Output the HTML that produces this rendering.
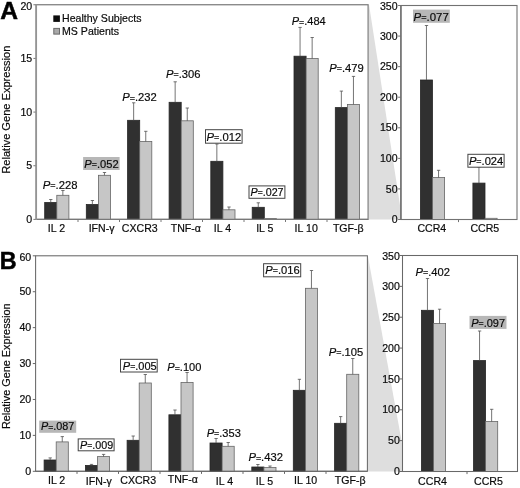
<!DOCTYPE html>
<html><head><meta charset="utf-8"><title>Figure</title><style>html,body{margin:0;padding:0;background:#fff}svg{display:block;will-change:transform;-webkit-font-smoothing:antialiased}text{stroke:#0a0a0a;stroke-width:0.18px}text.big{stroke:#000;stroke-width:0.5px}</style></head><body>
<svg width="520" height="488" viewBox="0 0 520 488" font-family="Liberation Sans, sans-serif" fill="#0a0a0a">
<rect width="520" height="488" fill="#fff"/>
<polygon points="369,4.5 369,219.5 400.5,219.5 400.5,208.5" fill="#dedede"/>
<polygon points="367.8,255.5 367.8,471.5 402.5,471.5 402.5,446" fill="#dedede"/>
<rect x="36.2" y="4.75" width="331.90" height="214.65" fill="#fff" stroke="#787878" stroke-width="1.2"/>
<path d="M33.400000000000006 219.40H36.2" stroke="#787878" stroke-width="1"/>
<text transform="translate(32.20,223.00) scale(1.06,1)" font-size="10" text-anchor="end" >0</text>
<path d="M33.400000000000006 165.74H36.2" stroke="#787878" stroke-width="1"/>
<text transform="translate(32.20,169.34) scale(1.06,1)" font-size="10" text-anchor="end" >5</text>
<path d="M33.400000000000006 112.08H36.2" stroke="#787878" stroke-width="1"/>
<text transform="translate(32.20,115.67) scale(1.06,1)" font-size="10" text-anchor="end" >10</text>
<path d="M33.400000000000006 58.41H36.2" stroke="#787878" stroke-width="1"/>
<text transform="translate(32.20,62.01) scale(1.06,1)" font-size="10" text-anchor="end" >15</text>
<path d="M33.400000000000006 4.75H36.2" stroke="#787878" stroke-width="1"/>
<text transform="translate(32.20,9.85) scale(1.06,1)" font-size="10" text-anchor="end" >20</text>
<rect x="44.70" y="202.50" width="12.10" height="16.90" fill="#303030" stroke="#262626" stroke-width="0.8"/>
<rect x="56.80" y="195.30" width="12.10" height="24.10" fill="#c6c6c6" stroke="#666" stroke-width="0.8"/>
<path d="M50.75 202.50V199.50M49.15 199.50H52.45" stroke="#505050" stroke-width="0.8" fill="none"/>
<path d="M62.85 195.30V190.50M61.25 190.50H64.55" stroke="#505050" stroke-width="0.8" fill="none"/>
<text transform="translate(56.50,232.30) scale(1.06,1)" font-size="10" text-anchor="middle" >IL 2</text>
<rect x="86.30" y="204.50" width="12.10" height="14.90" fill="#303030" stroke="#262626" stroke-width="0.8"/>
<rect x="98.40" y="175.30" width="12.10" height="44.10" fill="#c6c6c6" stroke="#666" stroke-width="0.8"/>
<path d="M92.35 204.50V200.50M90.75 200.50H94.05" stroke="#505050" stroke-width="0.8" fill="none"/>
<path d="M104.45 175.30V172.50M102.85 172.50H106.15" stroke="#505050" stroke-width="0.8" fill="none"/>
<text transform="translate(101.60,232.30) scale(1.06,1)" font-size="10" text-anchor="middle" >IFN-γ</text>
<rect x="127.60" y="120.30" width="12.10" height="99.10" fill="#303030" stroke="#262626" stroke-width="0.8"/>
<rect x="139.70" y="141.50" width="12.10" height="77.90" fill="#c6c6c6" stroke="#666" stroke-width="0.8"/>
<path d="M133.65 120.30V102.80M132.05 102.80H135.35" stroke="#505050" stroke-width="0.8" fill="none"/>
<path d="M145.75 141.50V131.30M144.15 131.30H147.45" stroke="#505050" stroke-width="0.8" fill="none"/>
<text transform="translate(139.80,232.30) scale(1.06,1)" font-size="10" text-anchor="middle" >CXCR3</text>
<rect x="169.10" y="102.30" width="12.10" height="117.10" fill="#303030" stroke="#262626" stroke-width="0.8"/>
<rect x="181.20" y="120.80" width="12.10" height="98.60" fill="#c6c6c6" stroke="#666" stroke-width="0.8"/>
<path d="M175.15 102.30V81.80M173.55 81.80H176.85" stroke="#505050" stroke-width="0.8" fill="none"/>
<path d="M187.25 120.80V108.00M185.65 108.00H188.95" stroke="#505050" stroke-width="0.8" fill="none"/>
<text transform="translate(185.80,232.30) scale(1.06,1)" font-size="10" text-anchor="middle" >TNF-α</text>
<rect x="210.80" y="161.30" width="12.10" height="58.10" fill="#303030" stroke="#262626" stroke-width="0.8"/>
<rect x="222.90" y="209.80" width="12.10" height="9.60" fill="#c6c6c6" stroke="#666" stroke-width="0.8"/>
<path d="M216.85 161.30V144.00M215.25 144.00H218.55" stroke="#505050" stroke-width="0.8" fill="none"/>
<path d="M228.95 209.80V207.00M227.35 207.00H230.65" stroke="#505050" stroke-width="0.8" fill="none"/>
<text transform="translate(222.50,232.30) scale(1.06,1)" font-size="10" text-anchor="middle" >IL 4</text>
<rect x="252.20" y="207.30" width="12.10" height="12.10" fill="#303030" stroke="#262626" stroke-width="0.8"/>
<rect x="264.30" y="218.60" width="12.10" height="0.80" fill="#c6c6c6" stroke="#666" stroke-width="0.8"/>
<path d="M258.25 207.30V202.80M256.65 202.80H259.95" stroke="#505050" stroke-width="0.8" fill="none"/>
<text transform="translate(264.80,232.30) scale(1.06,1)" font-size="10" text-anchor="middle" >IL 5</text>
<rect x="294.00" y="56.20" width="12.10" height="163.20" fill="#303030" stroke="#262626" stroke-width="0.8"/>
<rect x="306.10" y="58.50" width="12.10" height="160.90" fill="#c6c6c6" stroke="#666" stroke-width="0.8"/>
<path d="M300.05 56.20V27.40M298.45 27.40H301.75" stroke="#505050" stroke-width="0.8" fill="none"/>
<path d="M312.15 58.50V37.50M310.55 37.50H313.85" stroke="#505050" stroke-width="0.8" fill="none"/>
<text transform="translate(306.20,232.30) scale(1.06,1)" font-size="10" text-anchor="middle" >IL 10</text>
<rect x="335.30" y="107.60" width="12.10" height="111.80" fill="#303030" stroke="#262626" stroke-width="0.8"/>
<rect x="347.40" y="104.40" width="12.10" height="115.00" fill="#c6c6c6" stroke="#666" stroke-width="0.8"/>
<path d="M341.35 107.60V91.10M339.75 91.10H343.05" stroke="#505050" stroke-width="0.8" fill="none"/>
<path d="M353.45 104.40V76.40M351.85 76.40H355.15" stroke="#505050" stroke-width="0.8" fill="none"/>
<text transform="translate(348.30,232.30) scale(1.06,1)" font-size="10" text-anchor="middle" >TGF-β</text>
<path d="M78.00 219.4V222.0" stroke="#787878" stroke-width="1"/>
<path d="M119.50 219.4V222.0" stroke="#787878" stroke-width="1"/>
<path d="M161.00 219.4V222.0" stroke="#787878" stroke-width="1"/>
<path d="M202.50 219.4V222.0" stroke="#787878" stroke-width="1"/>
<path d="M244.00 219.4V222.0" stroke="#787878" stroke-width="1"/>
<path d="M285.50 219.4V222.0" stroke="#787878" stroke-width="1"/>
<path d="M327.00 219.4V222.0" stroke="#787878" stroke-width="1"/>
<path d="M36.2 219.4H368.1" stroke="#787878" stroke-width="1.2"/>
<path d="M36.2 4.15V220.0" stroke="#949494" stroke-width="1.7"/>
<rect x="400.9" y="5.5" width="116.10" height="214.00" fill="#fff" stroke="#727272" stroke-width="1.1"/>
<path d="M398.09999999999997 219.50H400.9" stroke="#727272" stroke-width="1"/>
<text transform="translate(397.60,223.10) scale(1.06,1)" font-size="10" text-anchor="end" >0</text>
<path d="M398.09999999999997 188.93H400.9" stroke="#727272" stroke-width="1"/>
<text transform="translate(397.60,192.53) scale(1.06,1)" font-size="10" text-anchor="end" >50</text>
<path d="M398.09999999999997 158.36H400.9" stroke="#727272" stroke-width="1"/>
<text transform="translate(397.60,161.96) scale(1.06,1)" font-size="10" text-anchor="end" >100</text>
<path d="M398.09999999999997 127.79H400.9" stroke="#727272" stroke-width="1"/>
<text transform="translate(397.60,131.39) scale(1.06,1)" font-size="10" text-anchor="end" >150</text>
<path d="M398.09999999999997 97.21H400.9" stroke="#727272" stroke-width="1"/>
<text transform="translate(397.60,100.81) scale(1.06,1)" font-size="10" text-anchor="end" >200</text>
<path d="M398.09999999999997 66.64H400.9" stroke="#727272" stroke-width="1"/>
<text transform="translate(397.60,70.24) scale(1.06,1)" font-size="10" text-anchor="end" >250</text>
<path d="M398.09999999999997 36.07H400.9" stroke="#727272" stroke-width="1"/>
<text transform="translate(397.60,39.67) scale(1.06,1)" font-size="10" text-anchor="end" >300</text>
<path d="M398.09999999999997 5.50H400.9" stroke="#727272" stroke-width="1"/>
<text transform="translate(397.60,9.85) scale(1.06,1)" font-size="10" text-anchor="end" >350</text>
<rect x="420.40" y="80.00" width="12.10" height="139.50" fill="#303030" stroke="#262626" stroke-width="0.8"/>
<rect x="432.50" y="177.50" width="12.10" height="42.00" fill="#c6c6c6" stroke="#666" stroke-width="0.8"/>
<path d="M426.45 80.00V25.50M424.85 25.50H428.15" stroke="#505050" stroke-width="0.8" fill="none"/>
<path d="M438.55 177.50V170.30M436.95 170.30H440.25" stroke="#505050" stroke-width="0.8" fill="none"/>
<text transform="translate(431.80,232.30) scale(1.06,1)" font-size="10" text-anchor="middle" >CCR4</text>
<rect x="472.90" y="183.10" width="12.10" height="36.40" fill="#303030" stroke="#262626" stroke-width="0.8"/>
<rect x="485.00" y="218.30" width="12.10" height="1.20" fill="#c6c6c6" stroke="#666" stroke-width="0.8"/>
<path d="M478.95 183.10V167.00M477.35 167.00H480.65" stroke="#505050" stroke-width="0.8" fill="none"/>
<text transform="translate(484.80,232.30) scale(1.06,1)" font-size="10" text-anchor="middle" >CCR5</text>
<path d="M458.50 219.5V222.1" stroke="#727272" stroke-width="1"/>
<path d="M400.9 219.5H517" stroke="#727272" stroke-width="1.1"/>
<path d="M400.9 4.95V220.05" stroke="#707070" stroke-width="1.4"/>
<rect x="35.6" y="255.8" width="331.80" height="215.50" fill="#fff" stroke="#686868" stroke-width="1.05"/>
<path d="M32.800000000000004 471.30H35.6" stroke="#686868" stroke-width="1"/>
<text transform="translate(31.20,474.90) scale(1.06,1)" font-size="10" text-anchor="end" >0</text>
<path d="M32.800000000000004 435.38H35.6" stroke="#686868" stroke-width="1"/>
<text transform="translate(31.20,438.98) scale(1.06,1)" font-size="10" text-anchor="end" >10</text>
<path d="M32.800000000000004 399.47H35.6" stroke="#686868" stroke-width="1"/>
<text transform="translate(31.20,403.07) scale(1.06,1)" font-size="10" text-anchor="end" >20</text>
<path d="M32.800000000000004 363.55H35.6" stroke="#686868" stroke-width="1"/>
<text transform="translate(31.20,367.15) scale(1.06,1)" font-size="10" text-anchor="end" >30</text>
<path d="M32.800000000000004 327.63H35.6" stroke="#686868" stroke-width="1"/>
<text transform="translate(31.20,331.23) scale(1.06,1)" font-size="10" text-anchor="end" >40</text>
<path d="M32.800000000000004 291.72H35.6" stroke="#686868" stroke-width="1"/>
<text transform="translate(31.20,295.32) scale(1.06,1)" font-size="10" text-anchor="end" >50</text>
<path d="M32.800000000000004 255.80H35.6" stroke="#686868" stroke-width="1"/>
<text transform="translate(31.20,260.70) scale(1.06,1)" font-size="10" text-anchor="end" >60</text>
<rect x="44.10" y="460.00" width="12.10" height="11.30" fill="#303030" stroke="#262626" stroke-width="0.8"/>
<rect x="56.20" y="441.90" width="12.10" height="29.40" fill="#c6c6c6" stroke="#666" stroke-width="0.8"/>
<path d="M50.15 460.00V457.90M48.55 457.90H51.85" stroke="#505050" stroke-width="0.8" fill="none"/>
<path d="M62.25 441.90V436.60M60.65 436.60H63.95" stroke="#505050" stroke-width="0.8" fill="none"/>
<text transform="translate(56.60,483.80) scale(1.06,1)" font-size="10" text-anchor="middle" >IL 2</text>
<rect x="85.40" y="465.40" width="12.10" height="5.90" fill="#303030" stroke="#262626" stroke-width="0.8"/>
<rect x="97.50" y="456.60" width="12.10" height="14.70" fill="#c6c6c6" stroke="#666" stroke-width="0.8"/>
<path d="M91.45 465.40V464.40M89.85 464.40H93.15" stroke="#505050" stroke-width="0.8" fill="none"/>
<path d="M103.55 456.60V454.40M101.95 454.40H105.25" stroke="#505050" stroke-width="0.8" fill="none"/>
<text transform="translate(98.80,484.80) scale(1.06,1)" font-size="10" text-anchor="middle" >IFN-γ</text>
<rect x="127.10" y="440.30" width="12.10" height="31.00" fill="#303030" stroke="#262626" stroke-width="0.8"/>
<rect x="139.20" y="383.00" width="12.10" height="88.30" fill="#c6c6c6" stroke="#666" stroke-width="0.8"/>
<path d="M133.15 440.30V436.00M131.55 436.00H134.85" stroke="#505050" stroke-width="0.8" fill="none"/>
<path d="M145.25 383.00V374.50M143.65 374.50H146.95" stroke="#505050" stroke-width="0.8" fill="none"/>
<text transform="translate(138.20,483.80) scale(1.06,1)" font-size="10" text-anchor="middle" >CXCR3</text>
<rect x="168.90" y="414.80" width="12.10" height="56.50" fill="#303030" stroke="#262626" stroke-width="0.8"/>
<rect x="181.00" y="382.50" width="12.10" height="88.80" fill="#c6c6c6" stroke="#666" stroke-width="0.8"/>
<path d="M174.95 414.80V410.00M173.35 410.00H176.65" stroke="#505050" stroke-width="0.8" fill="none"/>
<path d="M187.05 382.50V372.50M185.45 372.50H188.75" stroke="#505050" stroke-width="0.8" fill="none"/>
<text transform="translate(182.80,482.80) scale(1.06,1)" font-size="10" text-anchor="middle" >TNF-α</text>
<rect x="210.00" y="443.00" width="12.10" height="28.30" fill="#303030" stroke="#262626" stroke-width="0.8"/>
<rect x="222.10" y="446.30" width="12.10" height="25.00" fill="#c6c6c6" stroke="#666" stroke-width="0.8"/>
<path d="M216.05 443.00V438.50M214.45 438.50H217.75" stroke="#505050" stroke-width="0.8" fill="none"/>
<path d="M228.15 446.30V442.50M226.55 442.50H229.85" stroke="#505050" stroke-width="0.8" fill="none"/>
<text transform="translate(224.40,484.80) scale(1.06,1)" font-size="10" text-anchor="middle" >IL 4</text>
<rect x="251.80" y="467.00" width="12.10" height="4.30" fill="#303030" stroke="#262626" stroke-width="0.8"/>
<rect x="263.90" y="467.50" width="12.10" height="3.80" fill="#c6c6c6" stroke="#666" stroke-width="0.8"/>
<path d="M257.85 467.00V464.50M256.25 464.50H259.55" stroke="#505050" stroke-width="0.8" fill="none"/>
<path d="M269.95 467.50V466.00M268.35 466.00H271.65" stroke="#505050" stroke-width="0.8" fill="none"/>
<text transform="translate(264.40,484.80) scale(1.06,1)" font-size="10" text-anchor="middle" >IL 5</text>
<rect x="293.30" y="390.30" width="12.10" height="81.00" fill="#303030" stroke="#262626" stroke-width="0.8"/>
<rect x="305.40" y="288.30" width="12.10" height="183.00" fill="#c6c6c6" stroke="#666" stroke-width="0.8"/>
<path d="M299.35 390.30V379.30M297.75 379.30H301.05" stroke="#505050" stroke-width="0.8" fill="none"/>
<path d="M311.45 288.30V270.50M309.85 270.50H313.15" stroke="#505050" stroke-width="0.8" fill="none"/>
<text transform="translate(305.60,484.00) scale(1.06,1)" font-size="10" text-anchor="middle" >IL 10</text>
<rect x="334.60" y="423.30" width="12.10" height="48.00" fill="#303030" stroke="#262626" stroke-width="0.8"/>
<rect x="346.70" y="374.30" width="12.10" height="97.00" fill="#c6c6c6" stroke="#666" stroke-width="0.8"/>
<path d="M340.65 423.30V416.60M339.05 416.60H342.35" stroke="#505050" stroke-width="0.8" fill="none"/>
<path d="M352.75 374.30V358.50M351.15 358.50H354.45" stroke="#505050" stroke-width="0.8" fill="none"/>
<text transform="translate(350.20,484.00) scale(1.06,1)" font-size="10" text-anchor="middle" >TGF-β</text>
<path d="M77.00 471.3V473.90000000000003" stroke="#686868" stroke-width="1"/>
<path d="M118.50 471.3V473.90000000000003" stroke="#686868" stroke-width="1"/>
<path d="M160.00 471.3V473.90000000000003" stroke="#686868" stroke-width="1"/>
<path d="M201.50 471.3V473.90000000000003" stroke="#686868" stroke-width="1"/>
<path d="M243.00 471.3V473.90000000000003" stroke="#686868" stroke-width="1"/>
<path d="M284.50 471.3V473.90000000000003" stroke="#686868" stroke-width="1"/>
<path d="M326.00 471.3V473.90000000000003" stroke="#686868" stroke-width="1"/>
<path d="M35.6 471.3H367.4" stroke="#686868" stroke-width="1.05"/>
<rect x="402.5" y="255.5" width="115.00" height="216.00" fill="#fff" stroke="#686868" stroke-width="1.05"/>
<path d="M399.7 471.50H402.5" stroke="#686868" stroke-width="1"/>
<text transform="translate(399.90,475.10) scale(1.06,1)" font-size="10" text-anchor="end" >0</text>
<path d="M399.7 440.64H402.5" stroke="#686868" stroke-width="1"/>
<text transform="translate(399.90,444.24) scale(1.06,1)" font-size="10" text-anchor="end" >50</text>
<path d="M399.7 409.79H402.5" stroke="#686868" stroke-width="1"/>
<text transform="translate(399.90,413.39) scale(1.06,1)" font-size="10" text-anchor="end" >100</text>
<path d="M399.7 378.93H402.5" stroke="#686868" stroke-width="1"/>
<text transform="translate(399.90,382.53) scale(1.06,1)" font-size="10" text-anchor="end" >150</text>
<path d="M399.7 348.07H402.5" stroke="#686868" stroke-width="1"/>
<text transform="translate(399.90,351.67) scale(1.06,1)" font-size="10" text-anchor="end" >200</text>
<path d="M399.7 317.21H402.5" stroke="#686868" stroke-width="1"/>
<text transform="translate(399.90,320.81) scale(1.06,1)" font-size="10" text-anchor="end" >250</text>
<path d="M399.7 286.36H402.5" stroke="#686868" stroke-width="1"/>
<text transform="translate(399.90,289.96) scale(1.06,1)" font-size="10" text-anchor="end" >300</text>
<path d="M399.7 255.50H402.5" stroke="#686868" stroke-width="1"/>
<text transform="translate(399.90,259.70) scale(1.06,1)" font-size="10" text-anchor="end" >350</text>
<rect x="421.40" y="310.30" width="12.10" height="161.20" fill="#303030" stroke="#262626" stroke-width="0.8"/>
<rect x="433.50" y="323.50" width="12.10" height="148.00" fill="#c6c6c6" stroke="#666" stroke-width="0.8"/>
<path d="M427.45 310.30V278.50M425.85 278.50H429.15" stroke="#505050" stroke-width="0.8" fill="none"/>
<path d="M439.55 323.50V309.20M437.95 309.20H441.25" stroke="#505050" stroke-width="0.8" fill="none"/>
<text transform="translate(432.50,484.50) scale(1.06,1)" font-size="10" text-anchor="middle" >CCR4</text>
<rect x="473.50" y="360.60" width="12.10" height="110.90" fill="#303030" stroke="#262626" stroke-width="0.8"/>
<rect x="485.60" y="421.50" width="12.10" height="50.00" fill="#c6c6c6" stroke="#666" stroke-width="0.8"/>
<path d="M479.55 360.60V331.00M477.95 331.00H481.25" stroke="#505050" stroke-width="0.8" fill="none"/>
<path d="M491.65 421.50V409.30M490.05 409.30H493.35" stroke="#505050" stroke-width="0.8" fill="none"/>
<text transform="translate(488.40,484.50) scale(1.06,1)" font-size="10" text-anchor="middle" >CCR5</text>
<path d="M467.00 471.5V474.1" stroke="#686868" stroke-width="1"/>
<path d="M402.5 471.5H517.5" stroke="#686868" stroke-width="1.05"/>
<text x="42.70" y="189.10" font-size="11" textLength="34.80" lengthAdjust="spacingAndGlyphs"><tspan font-style="italic">P</tspan><tspan font-size="8.8" dy="-0.7">=</tspan><tspan dy="0.7">.228</tspan></text>
<rect x="83.10" y="157.00" width="36.50" height="13.00" fill="#b7b7b7"/>
<text x="84.30" y="167.70" font-size="11" textLength="34.30" lengthAdjust="spacingAndGlyphs"><tspan font-style="italic">P</tspan><tspan font-size="8.8" dy="-0.7">=</tspan><tspan dy="0.7">.052</tspan></text>
<text x="122.20" y="101.20" font-size="11" textLength="34.60" lengthAdjust="spacingAndGlyphs"><tspan font-style="italic">P</tspan><tspan font-size="8.8" dy="-0.7">=</tspan><tspan dy="0.7">.232</tspan></text>
<text x="166.00" y="78.00" font-size="11" textLength="34.50" lengthAdjust="spacingAndGlyphs"><tspan font-style="italic">P</tspan><tspan font-size="8.8" dy="-0.7">=</tspan><tspan dy="0.7">.306</tspan></text>
<rect x="205.50" y="129.70" width="36.60" height="13.50" fill="#fff" stroke="#444" stroke-width="1"/>
<text x="206.60" y="140.70" font-size="11" textLength="34.70" lengthAdjust="spacingAndGlyphs"><tspan font-style="italic">P</tspan><tspan font-size="8.8" dy="-0.7">=</tspan><tspan dy="0.7">.012</tspan></text>
<rect x="249.00" y="185.90" width="35.90" height="12.40" fill="#fff" stroke="#444" stroke-width="1"/>
<text x="250.50" y="196.00" font-size="11" textLength="33.10" lengthAdjust="spacingAndGlyphs"><tspan font-style="italic">P</tspan><tspan font-size="8.8" dy="-0.7">=</tspan><tspan dy="0.7">.027</tspan></text>
<text x="291.70" y="25.30" font-size="11" textLength="34.00" lengthAdjust="spacingAndGlyphs"><tspan font-style="italic">P</tspan><tspan font-size="8.8" dy="-0.7">=</tspan><tspan dy="0.7">.484</tspan></text>
<text x="329.20" y="72.00" font-size="11" textLength="34.60" lengthAdjust="spacingAndGlyphs"><tspan font-style="italic">P</tspan><tspan font-size="8.8" dy="-0.7">=</tspan><tspan dy="0.7">.479</tspan></text>
<rect x="413.00" y="9.60" width="36.80" height="13.20" fill="#b7b7b7"/>
<text x="413.60" y="20.50" font-size="11" textLength="35.20" lengthAdjust="spacingAndGlyphs"><tspan font-style="italic">P</tspan><tspan font-size="8.8" dy="-0.7">=</tspan><tspan dy="0.7">.077</tspan></text>
<rect x="467.90" y="154.30" width="36.20" height="12.90" fill="#fff" stroke="#444" stroke-width="1"/>
<text x="468.90" y="164.60" font-size="11" textLength="34.40" lengthAdjust="spacingAndGlyphs"><tspan font-style="italic">P</tspan><tspan font-size="8.8" dy="-0.7">=</tspan><tspan dy="0.7">.024</tspan></text>
<rect x="39.20" y="420.60" width="37.00" height="12.20" fill="#b7b7b7"/>
<text x="40.90" y="430.30" font-size="11" textLength="33.40" lengthAdjust="spacingAndGlyphs"><tspan font-style="italic">P</tspan><tspan font-size="8.8" dy="-0.7">=</tspan><tspan dy="0.7">.087</tspan></text>
<rect x="78.20" y="438.90" width="35.90" height="11.90" fill="#fff" stroke="#444" stroke-width="1"/>
<text x="80.10" y="448.50" font-size="11" textLength="33.10" lengthAdjust="spacingAndGlyphs"><tspan font-style="italic">P</tspan><tspan font-size="8.8" dy="-0.7">=</tspan><tspan dy="0.7">.009</tspan></text>
<rect x="120.50" y="359.30" width="36.70" height="12.70" fill="#fff" stroke="#444" stroke-width="1"/>
<text x="122.80" y="370.00" font-size="11" textLength="33.90" lengthAdjust="spacingAndGlyphs"><tspan font-style="italic">P</tspan><tspan font-size="8.8" dy="-0.7">=</tspan><tspan dy="0.7">.005</tspan></text>
<text x="167.30" y="371.20" font-size="11" textLength="34.10" lengthAdjust="spacingAndGlyphs"><tspan font-style="italic">P</tspan><tspan font-size="8.8" dy="-0.7">=</tspan><tspan dy="0.7">.100</tspan></text>
<text x="206.70" y="437.00" font-size="11" textLength="34.10" lengthAdjust="spacingAndGlyphs"><tspan font-style="italic">P</tspan><tspan font-size="8.8" dy="-0.7">=</tspan><tspan dy="0.7">.353</tspan></text>
<text x="248.40" y="461.20" font-size="11" textLength="34.60" lengthAdjust="spacingAndGlyphs"><tspan font-style="italic">P</tspan><tspan font-size="8.8" dy="-0.7">=</tspan><tspan dy="0.7">.432</tspan></text>
<rect x="263.60" y="263.70" width="37.10" height="13.10" fill="#fff" stroke="#444" stroke-width="1"/>
<text x="265.30" y="274.10" font-size="11" textLength="34.40" lengthAdjust="spacingAndGlyphs"><tspan font-style="italic">P</tspan><tspan font-size="8.8" dy="-0.7">=</tspan><tspan dy="0.7">.016</tspan></text>
<text x="328.70" y="355.70" font-size="11" textLength="34.50" lengthAdjust="spacingAndGlyphs"><tspan font-style="italic">P</tspan><tspan font-size="8.8" dy="-0.7">=</tspan><tspan dy="0.7">.105</tspan></text>
<text x="415.50" y="275.80" font-size="11" textLength="34.50" lengthAdjust="spacingAndGlyphs"><tspan font-style="italic">P</tspan><tspan font-size="8.8" dy="-0.7">=</tspan><tspan dy="0.7">.402</tspan></text>
<rect x="469.50" y="315.90" width="37.00" height="13.00" fill="#b7b7b7"/>
<text x="471.20" y="326.50" font-size="11" textLength="33.90" lengthAdjust="spacingAndGlyphs"><tspan font-style="italic">P</tspan><tspan font-size="8.8" dy="-0.7">=</tspan><tspan dy="0.7">.097</tspan></text>
<rect x="53.3" y="15.4" width="6.6" height="6.5" fill="#0c0c0c"/>
<rect x="53.8" y="28.4" width="5.7" height="5.7" fill="#a9a9a9" stroke="#6a6a6a" stroke-width="1"/>
<text transform="translate(62.00,22.00) scale(1.06,1)" font-size="10" text-anchor="start" >Healthy Subjects</text>
<text transform="translate(62.00,34.80) scale(1.06,1)" font-size="10" text-anchor="start" >MS Patients</text>
<text transform="translate(10.2,173.7) rotate(-90)" font-size="10" textLength="128" lengthAdjust="spacingAndGlyphs">Relative Gene Expression</text>
<text transform="translate(10.2,429) rotate(-90)" font-size="10" textLength="125.5" lengthAdjust="spacingAndGlyphs">Relative Gene Expression</text>
<text transform="translate(0.2,18.85)" font-size="24.6" class="big" font-weight="bold" fill="#000">A</text>
<text transform="translate(-0.3,268.8) scale(0.95,1)" font-size="24.6" class="big" font-weight="bold" fill="#000">B</text>
</svg>
</body></html>
